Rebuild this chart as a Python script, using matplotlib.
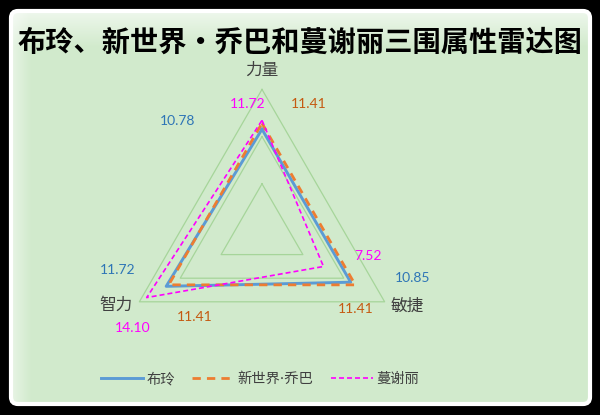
import numpy as np
import matplotlib
matplotlib.use("Agg")
import matplotlib.pyplot as plt
from matplotlib.patches import FancyBboxPatch

# ---------------- data ----------------
axes_labels = ["力量", "敏捷", "智力"]
series_names = ["布玲", "新世界·乔巴", "蔓谢丽"]
bulin = [10.78, 10.85, 11.72]
qiaoba = [11.41, 11.41, 11.41]
manxieli = [11.72, 7.52, 14.10]
grid_levels = [5, 10, 15]
title = "布玲、新世界·乔巴和蔓谢丽三围属性雷达图"

# ---------------- style ----------------
CJK = ["Noto Sans CJK SC", "DejaVu Sans"]
LATIN_FIRST = ["DejaVu Sans", "Noto Sans CJK SC"]
plt.rcParams["font.family"] = CJK

W, H, DPI = 600, 415, 100
fig = plt.figure(figsize=(W / DPI, H / DPI), dpi=DPI, facecolor="black")

# panel
bg = fig.add_axes([0, 0, 1, 1])
bg.set_xlim(0, W)
bg.set_ylim(H, 0)
bg.axis("off")
panel = FancyBboxPatch((11, 11), 579, 393, boxstyle="round,pad=0,rounding_size=7",
                       facecolor="#d1eacc", edgecolor="white", linewidth=3.0, zorder=1)
bg.add_patch(panel)
# soft top glow
grad = np.linspace(0.6, 0.0, 40)[:, None] * np.ones((1, 10))
glow = np.zeros((40, 10, 4))
glow[..., :3] = 1.0
glow[..., 3] = grad
bg.imshow(glow, extent=(13, 588, 48, 13), aspect="auto", zorder=2, interpolation="bilinear")
gradx = np.linspace(0.45, 0.0, 20)[None, :] * np.ones((10, 1))
glowx = np.zeros((10, 20, 4))
glowx[..., :3] = 1.0
glowx[..., 3] = gradx
bg.imshow(glowx, extent=(13, 32, 402, 13), aspect="auto", zorder=2, interpolation="bilinear")
bg.set_xlim(0, W)
bg.set_ylim(H, 0)

fig.text(300 / W, 1 - 43 / H, title, ha="center", va="center", fontsize=20.3,
         fontweight="bold", color="black", family=CJK)

# radar axes: center at px (262, 231), 15 units -> 141.6 px
cx, cy = 262.0, 231.0
unit = 141.6 / 15.0
ax = fig.add_axes([0, 0, 1, 1])
ax.patch.set_alpha(0)
ax.set_xlim(-cx / unit, (W - cx) / unit)
ax.set_ylim(-(H - cy) / unit, cy / unit)
ax.axis("off")

angles = np.deg2rad([90, -30, 210])

def xy(vals):
    v = np.asarray(vals, dtype=float)
    x = v * np.cos(angles)
    y = v * np.sin(angles)
    return np.append(x, x[0]), np.append(y, y[0])

grid_color = "#a6d59a"
for lv in grid_levels:
    gx, gy = xy([lv] * 3)
    ax.plot(gx, gy, color=grid_color, lw=0.9, zorder=2)

colors = ["#5b9bd5", "#ed7d31", "#ff00ff"]
label_colors = ["#2e75b6", "#c55a11", "#ff00ff"]
styles = [dict(ls="-", lw=2.1),
          dict(ls=(0, (3.0, 2.2)), lw=2.0),
          dict(ls=(0, (3.0, 1.8)), lw=1.2)]
all_series = [bulin, qiaoba, manxieli]
handles = []
for vals, name, c, st in zip(all_series, series_names, colors, styles):
    sx, sy = xy(vals)
    h, = ax.plot(sx, sy, color=c, label=name, zorder=3, **st)
    handles.append(h)

# data labels: offsets in pixels (dx right, dy up)
offsets_px = [
    [(-84, 8), (62, 4.5), (-49, 16)],      # 布玲
    [(47, 19), (0, -24.5), (25.6, -32.4)],  # 乔巴
    [(-14, 16.4), (45, 10), (-14, -30)],   # 蔓谢丽
]
pt = 72.0 / DPI
for vals, offs, lc in zip(all_series, offsets_px, label_colors):
    sx, sy = xy(vals)
    for i, v in enumerate(vals):
        ax.annotate(f"{v:.2f}", (sx[i], sy[i]), xytext=(offs[i][0] * pt, offs[i][1] * pt),
                    textcoords="offset points", ha="center", va="center",
                    fontsize=10, color=lc, family=["Lato", "DejaVu Sans"], zorder=5)

# axis category labels, offsets from outer vertex
ox, oy = xy([grid_levels[-1]] * 3)
cat_offsets = [(0, 19), (23, -4), (-23, -4)]
for i, lab in enumerate(axes_labels):
    ax.annotate(lab, (ox[i], oy[i]), xytext=(cat_offsets[i][0] * pt, cat_offsets[i][1] * pt),
                textcoords="offset points", ha="center", va="center",
                fontsize=12, color="#404040", family=CJK)

leg = fig.legend(handles=handles, labels=series_names, loc="center",
                 bbox_to_anchor=(260 / W, 1 - 379 / H), ncol=3, frameon=False,
                 handlelength=2.9, handletextpad=0.25, columnspacing=1.25,
                 prop={"family": LATIN_FIRST, "size": 10.3})
for t in leg.get_texts():
    t.set_color("#404040")

fig.savefig("out.png", dpi=DPI, facecolor="black")
